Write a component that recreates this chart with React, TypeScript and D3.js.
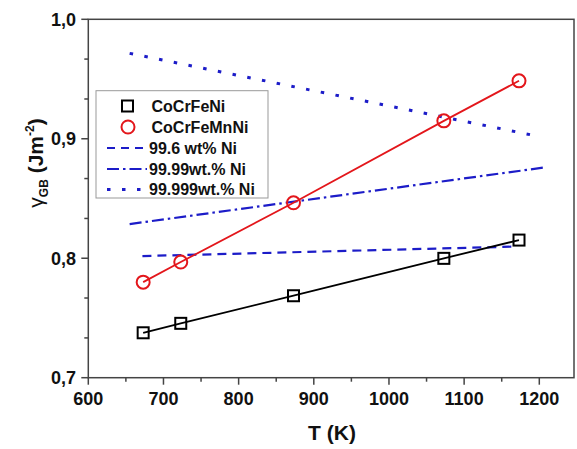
import React from "react";
import * as d3 from "d3";

const tempsFeNi = [673, 723, 873, 1073, 1173];
const gammaFeNi = [0.7376, 0.7455, 0.7686, 0.7999, 0.8152];
const tempsMnNi = [673, 723, 873, 1073, 1173];
const gammaMnNi = [0.78, 0.7968, 0.8464, 0.915, 0.9485];
const ni996 = [[672, 0.8018], [1170, 0.8098]];
const ni9999 = [[655, 0.8286], [1207, 0.876]];
const ni99999 = [[655, 0.9715], [1200, 0.9019]];
const xTicks = [600, 700, 800, 900, 1000, 1100, 1200];
const xMinor = [650, 750, 850, 950, 1050, 1150];
const yTicks = [0.7, 0.8, 0.9, 1.0];
const yMinor = [0.7333, 0.7667, 0.8333, 0.8667, 0.9333, 0.9667];
const legendLabels = ["CoCrFeNi", "CoCrFeMnNi", "99.6 wt% Ni", "99.99wt.% Ni", "99.999wt.% Ni"];

const W = 577, H = 449;
const L = 88.3, R = 574, T = 19.3, B = 377.7;
const FONT = "'Liberation Sans', Arial, sans-serif";
const BLUE = "#1c1cc8";
const RED = "#e3161b";

export default function App() {
  const x = d3.scaleLinear().domain([600, 1200]).range([L, 539.3]);
  const y = d3.scaleLinear().domain([0.7, 1.0]).range([B, T]);
  const line = d3.line<[number, number]>().x(d => x(d[0])).y(d => y(d[1]));
  const feNi: [number, number][] = tempsFeNi.map((t, i) => [t, gammaFeNi[i]]);
  const mnNi: [number, number][] = tempsMnNi.map((t, i) => [t, gammaMnNi[i]]);
  const fmt = (v: number) => v.toFixed(1).replace(".", ",");

  const lx = 96, ly = 90.7, lw = 172, lh = 107.3;
  const rowY = [106, 127, 148, 169, 189.5];

  return (
    <svg width={W} height={H} style={{ position: "absolute", left: 0, top: 0, background: "#fff" }} fontFamily={FONT}>
      <rect x={0} y={0} width={W} height={H} fill="#fff" />
      {/* reference lines */}
      <path d={line(ni996 as [number, number][]) || ""} fill="none" stroke={BLUE} strokeWidth={2.2} strokeDasharray="9,6" />
      <path d={line(ni9999 as [number, number][]) || ""} fill="none" stroke={BLUE} strokeWidth={2.2} strokeDasharray="12,4,2.5,4" />
      <path d={line(ni99999 as [number, number][]) || ""} fill="none" stroke={BLUE} strokeWidth={3} strokeDasharray="3.5,11.5" />
      {/* data lines */}
      <path d={line(feNi) || ""} fill="none" stroke="#000" strokeWidth={1.8} />
      <path d={line(mnNi) || ""} fill="none" stroke={RED} strokeWidth={1.8} />
      {feNi.map((d, i) => (
        <rect key={"s" + i} x={x(d[0]) - 5.5} y={y(d[1]) - 5.5} width={11} height={11} fill="none" stroke="#000" strokeWidth={2} />
      ))}
      {mnNi.map((d, i) => (
        <circle key={"c" + i} cx={x(d[0])} cy={y(d[1])} r={6.5} fill="none" stroke={RED} strokeWidth={2} />
      ))}
      {/* frame */}
      <rect x={L} y={T} width={R - L} height={B - T} fill="none" stroke="#444" strokeWidth={1.5} />
      {/* x ticks */}
      {xTicks.map(t => (
        <g key={"xt" + t}>
          <line x1={x(t)} x2={x(t)} y1={B} y2={B + 7} stroke="#444" strokeWidth={1.5} />
          <text x={x(t)} y={405} textAnchor="middle" fontSize={18} fontWeight="bold" fill="#111">{t}</text>
        </g>
      ))}
      {xMinor.map(t => (
        <line key={"xm" + t} x1={x(t)} x2={x(t)} y1={B} y2={B + 4} stroke="#444" strokeWidth={1.5} />
      ))}
      {yTicks.map(t => (
        <g key={"yt" + t}>
          <line x1={L - 7} x2={L} y1={y(t)} y2={y(t)} stroke="#444" strokeWidth={1.5} />
          <text x={76} y={y(t) + 6.5} textAnchor="end" fontSize={18} fontWeight="bold" fill="#111">{fmt(t)}</text>
        </g>
      ))}
      {yMinor.map(t => (
        <line key={"ym" + t} x1={L - 4} x2={L} y1={y(t)} y2={y(t)} stroke="#444" strokeWidth={1.5} />
      ))}
      {/* axis titles */}
      <text x={332} y={440} textAnchor="middle" fontSize={21} fontWeight="bold" fill="#111">T (K)</text>
      <text transform="translate(43,163) rotate(-90)" textAnchor="middle" fontSize={21} fontWeight="bold" fill="#111">
        <tspan fontWeight="normal">γ</tspan>
        <tspan fontSize={12} dy={5}>GB</tspan>
        <tspan dy={-5}> (Jm</tspan>
        <tspan fontSize={12} dy={-9}>-2</tspan>
        <tspan dy={9}>)</tspan>
      </text>
      {/* legend */}
      <rect x={lx} y={ly} width={lw} height={lh} fill="#fff" stroke="#999" strokeWidth={1} />
      <rect x={122} y={rowY[0] - 5.5} width={11} height={11} fill="none" stroke="#000" strokeWidth={2} />
      <circle cx={128} cy={rowY[1]} r={6.5} fill="none" stroke={RED} strokeWidth={2} />
      <line x1={107} x2={147} y1={rowY[2]} y2={rowY[2]} stroke={BLUE} strokeWidth={2.2} strokeDasharray="8,6" />
      <line x1={107} x2={147} y1={rowY[3]} y2={rowY[3]} stroke={BLUE} strokeWidth={2.2} strokeDasharray="12,4,2.5,4" />
      <line x1={107} x2={149} y1={rowY[4]} y2={rowY[4]} stroke={BLUE} strokeWidth={3} strokeDasharray="3.5,11.5" />
      {legendLabels.map((s, i) => (
        <text key={s} x={i < 2 ? 151.5 : 149} y={rowY[i] + 5.5} fontSize={16} fontWeight="bold" fill="#111">{s}</text>
      ))}
    </svg>
  );
}
